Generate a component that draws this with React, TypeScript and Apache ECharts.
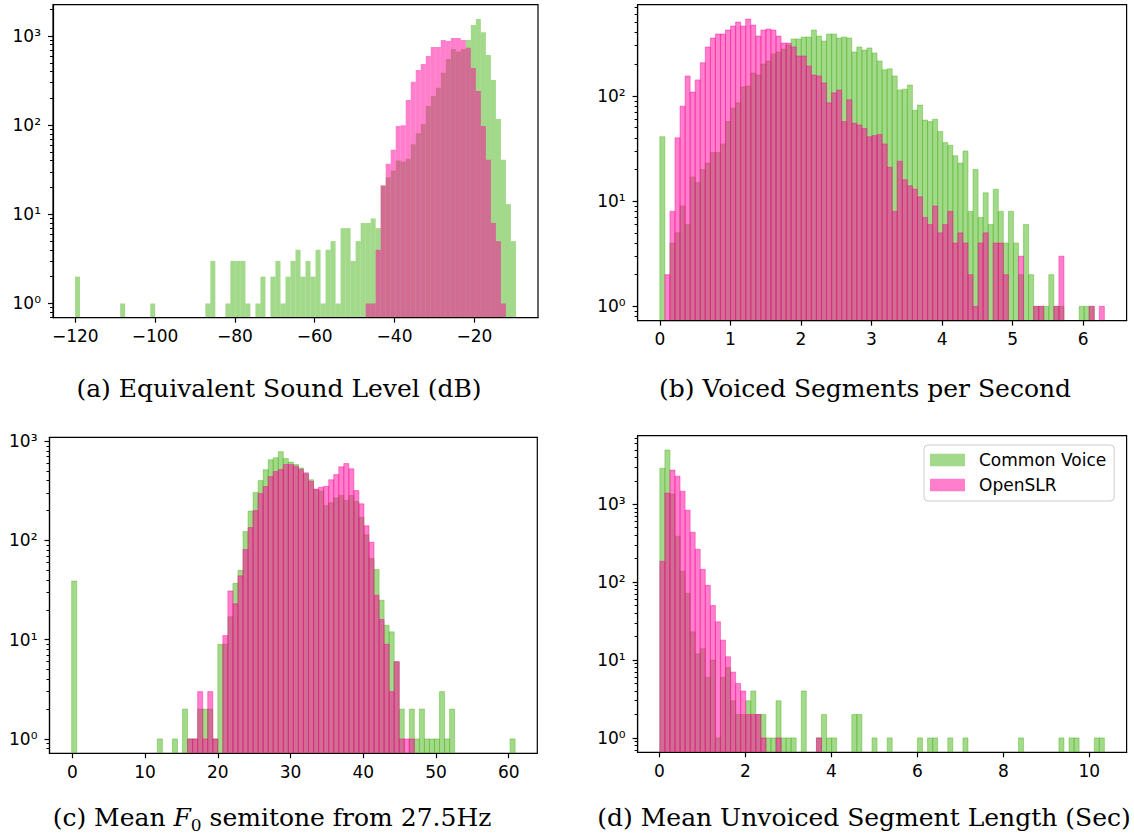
import React, { useEffect, useRef } from 'react';
import * as echarts from 'echarts';

// ---------- colours ----------
const GREEN = 'rgba(71,179,21,0.5)';
const PINK = 'rgba(255,0,153,0.5)';

// ---------- (a) Equivalent Sound Level (dB) : 88 shared bins ----------
const aBinStart = -120.05;
const aBinWidth = 1.2554;
const aCommonVoice = [
  2, 0, 0, 0, 0, 0, 0, 0, 0, 1, 0, 0, 0, 0, 0, 1, 0, 0, 0, 0,
  0, 0, 0, 0, 0, 0, 1, 3, 0, 0, 1, 3, 3, 3, 1, 0, 1, 2, 0, 2,
  3, 1, 2, 3, 4, 2, 3, 2, 4, 1, 4, 5, 1, 7, 7, 3, 5, 8, 8, 9,
  7, 21, 26, 31, 40, 39, 42, 61, 81, 103, 164, 212, 263, 388, 552, 715, 668, 715, 903, 1330,
  1553, 1101, 612, 321, 117, 41, 13, 5,
];
const aOpenSLR = [
  0, 0, 0, 0, 0, 0, 0, 0, 0, 0, 0, 0, 0, 0, 0, 0, 0, 0, 0, 0,
  0, 0, 0, 0, 0, 0, 0, 0, 0, 0, 0, 0, 0, 0, 0, 0, 0, 0, 0, 0,
  0, 0, 0, 0, 0, 0, 0, 0, 0, 0, 0, 0, 0, 0, 0, 0, 0, 0, 1, 1,
  4, 21, 37, 53, 98, 100, 191, 307, 416, 486, 597, 753, 753, 903, 880, 951, 951, 903, 740, 438,
  242, 98, 41, 8, 5, 1, 0, 0,
];
const aTicks = [-120, -100, -80, -60, -40, -20];

// ---------- (b) Voiced Segments per Second ----------
const bBinStart = 0;
const bBinWidth = 0.07159;
const bCommonVoice = [
  41, 0, 4, 5, 9, 6, 17, 15, 20, 23, 29, 29, 35, 57, 77, 86, 122, 124, 165, 158,
  201, 215, 251, 262, 279, 305, 348, 348, 363, 363, 423, 371, 333, 388, 388, 355, 363, 355, 262, 292,
  273, 286, 256, 215, 177, 181, 155, 114, 116, 127, 73, 82, 59, 57, 60, 46, 36, 34, 27, 23,
  30, 8, 20, 7, 12, 6, 13, 8, 4, 8, 4, 2, 6, 2, 1, 1, 1, 2, 1, 1,
  0, 0, 0, 1, 1, 1, 0, 0,
];
const bOpenSLR = [
  0, 2, 8, 40, 80, 155, 109, 142, 207, 292, 355, 388, 388, 423, 462, 504, 462, 538, 472, 371,
  423, 433, 423, 371, 318, 318, 292, 240, 240, 193, 158, 155, 133, 86, 107, 114, 57, 92, 55, 53,
  49, 41, 42, 43, 35, 21, 8, 24, 16, 14, 13, 11, 7, 6, 9, 5, 6, 8, 4, 5,
  4, 2, 1, 4, 5, 0, 4, 4, 2, 0, 0, 3, 0, 0, 1, 1, 0, 0, 1, 3,
  0, 0, 0, 0, 0, 1, 0, 1,
];
const bTicks = [0, 1, 2, 3, 4, 5, 6];

// ---------- (c) Mean F0 semitone from 27.5Hz ----------
const cBinStart = -0.1;
const cBinWidth = 0.693;
const cCommonVoice = [
  39, 0, 0, 0, 0, 0, 0, 0, 0, 0, 0, 0, 0, 0, 0, 0, 0, 1, 0, 0,
  1, 0, 2, 1, 1, 2, 2, 2, 1, 9, 9, 17, 37, 50, 123, 198, 305, 401, 517, 650,
  682, 785, 670, 616, 582, 538, 468, 409, 325, 314, 224, 240, 268, 284, 254, 284, 247, 171, 114, 66,
  51, 25, 14, 12, 6, 2, 0, 2, 1, 2, 1, 1, 1, 3, 1, 2, 0, 0, 0, 0,
  0, 0, 0, 0, 0, 0, 0, 1,
];
const cOpenSLR = [
  0, 0, 0, 0, 0, 0, 0, 0, 0, 0, 0, 0, 0, 0, 0, 0, 0, 0, 0, 0,
  0, 0, 0, 1, 1, 3, 1, 3, 1, 0, 11, 31, 23, 44, 81, 135, 200, 297, 349, 440,
  495, 518, 582, 582, 560, 520, 480, 395, 330, 344, 351, 409, 461, 552, 596, 528, 318, 234, 141, 96,
  28, 16, 9, 3, 6, 1, 1, 1, 0, 0, 0, 0, 0, 0, 0, 0, 0, 0, 0, 0,
  0, 0, 0, 0, 0, 0, 0, 0,
];
const cTicks = [0, 10, 20, 30, 40, 50, 60];

// ---------- (d) Mean Unvoiced Segment Length (Sec) ----------
const dBinStart = 0.01;
const dBinWidth = 0.1175;
const dCommonVoice = [
  2900, 4950, 1350, 388, 138, 72, 23, 12, 14, 6, 10, 1, 6, 8, 3, 2, 2, 3, 4, 2,
  2, 1, 1, 3, 1, 1, 1, 0, 4, 0, 0, 1, 2, 1, 1, 0, 0, 0, 2, 2,
  0, 0, 1, 0, 0, 1, 0, 0, 0, 0, 0, 1, 0, 1, 1, 0, 0, 1, 0, 0,
  1, 0, 0, 0, 0, 0, 0, 0, 0, 0, 0, 1, 0, 0, 0, 0, 0, 0, 0, 1,
  0, 1, 1, 0, 0, 0, 1, 1,
];
const dOpenSLR = [
  185, 1390, 2740, 2290, 1470, 838, 437, 264, 146, 91, 50, 31, 18, 11, 7, 5, 4, 2, 2, 2,
  1, 0, 0, 1, 0, 0, 0, 0, 0, 0, 0, 1, 0, 0, 0, 0, 0, 0, 0, 0,
  0, 0, 0, 0, 0, 0, 0, 0, 0, 0, 0, 0, 0, 0, 0, 0, 0, 0, 0, 0,
  0, 0, 0, 0, 0, 0, 0, 0, 0, 0, 0, 0, 0, 0, 0, 0, 0, 0, 0, 0,
  0, 0, 0, 0, 0, 0, 0, 0,
];
const dTicks = [0, 2, 4, 6, 8, 10];

const seriesNames = ['Common Voice', 'OpenSLR'];
const captions = [
  '(a) Equivalent Sound Level (dB)',
  '(b) Voiced Segments per Second',
  '(c) Mean F0 semitone from 27.5Hz',
  '(d) Mean Unvoiced Segment Length (Sec)',
];

// ---------- layout (pixels) ----------
const layouts = [
  { left: 53, top: 4.7, width: 485, height: 313 },
  { left: 637.6, top: 4.7, width: 489, height: 316 },
  { left: 49.5, top: 437.3, width: 487.8, height: 316 },
  { left: 637.6, top: 435.7, width: 489, height: 316.6 },
];
const captionPos = [
  { x: 279, y: 388 },
  { x: 865, y: 388 },
  { x: 272, y: 817.5 },
  { x: 864, y: 817.5 },
];

const SUP: Record<string, string> = { '-': '\u207B', '0': '\u2070', '1': '\u00B9', '2': '\u00B2', '3': '\u00B3', '4': '\u2074', '5': '\u2075' };
const MAJOR_LOG = [1, 10, 100, 1000, 10000];
const MINOR_LOG: number[] = [];
for (let d = -1; d <= 4; d++) for (let m = 2; m <= 9; m++) MINOR_LOG.push(m * Math.pow(10, d));

const TICK_FONT = { fontFamily: 'DejaVu Sans', fontSize: 17, color: '#000' };
const LINE = { color: '#000', width: 1.2 };

type Panel = { start: number; width: number; cv: number[]; slr: number[]; ticks: number[]; edges: boolean };
const panels: Panel[] = [
  { start: aBinStart, width: aBinWidth, cv: aCommonVoice, slr: aOpenSLR, ticks: aTicks, edges: false },
  { start: bBinStart, width: bBinWidth, cv: bCommonVoice, slr: bOpenSLR, ticks: bTicks, edges: true },
  { start: cBinStart, width: cBinWidth, cv: cCommonVoice, slr: cOpenSLR, ticks: cTicks, edges: true },
  { start: dBinStart, width: dBinWidth, cv: dCommonVoice, slr: dOpenSLR, ticks: dTicks, edges: true },
];

function toBins(start: number, width: number, counts: number[]) {
  const out: number[][] = [];
  counts.forEach((c, k) => {
    if (c > 0) out.push([start + k * width, start + (k + 1) * width, c]);
  });
  return out;
}

function makeRender(fill: string, edges: boolean) {
  return (params: any, api: any) => {
    const top = api.coord([api.value(0), api.value(2)]);
    const right = api.coord([api.value(1), api.value(2)]);
    const cs = params.coordSys;
    const bottom = cs.y + cs.height;
    return {
      type: 'rect',
      shape: { x: top[0], y: top[1], width: right[0] - top[0], height: bottom - top[1] },
      style: edges ? { fill, stroke: fill, lineWidth: 0.8 } : { fill },
    };
  };
}

function buildOption() {
  const grid: any[] = [];
  const xAxis: any[] = [];
  const yAxis: any[] = [];
  const series: any[] = [];

  panels.forEach((p, i) => {
    const n = p.cv.length;
    const lo = p.start;
    const hi = p.start + n * p.width;
    const span = hi - lo;
    const maxCount = Math.max(...p.cv, ...p.slr);
    const L = Math.log10(maxCount);
    const ymin = Math.pow(10, -0.05 * L);
    const ymax = Math.pow(10, 1.05 * L);

    grid.push({
      ...layouts[i],
      show: true,
      borderColor: '#000',
      borderWidth: 1.2,
      backgroundColor: 'transparent',
      containLabel: false,
      outerBoundsMode: 'none',
    });
    xAxis.push({
      type: 'value',
      gridIndex: i,
      min: lo - 0.05 * span,
      max: hi + 0.05 * span,
      z: 5,
      axisLine: { show: true, onZero: false, lineStyle: LINE },
      axisTick: { show: true, length: 5, lineStyle: LINE, customValues: p.ticks },
      axisLabel: {
        show: true,
        margin: 10,
        customValues: p.ticks,
        ...TICK_FONT,
        formatter: (v: number) => (v < 0 ? '\u2212' + Math.abs(v) : String(v)),
      },
      splitLine: { show: false },
    });
    yAxis.push({
      type: 'log',
      logBase: 10,
      gridIndex: i,
      min: ymin,
      max: ymax,
      position: 'left',
      z: 5,
      axisLine: { show: true, onZero: false, lineStyle: LINE },
      axisTick: { show: true, length: 5, lineStyle: LINE, customValues: MAJOR_LOG },
      axisLabel: {
        show: true,
        margin: 12,
        customValues: MAJOR_LOG,
        ...TICK_FONT,
        formatter: (v: number) => {
          const e = String(Math.round(Math.log10(v)));
          return '10' + e.split('').map((ch) => SUP[ch] || ch).join('');
        },
      },
      splitLine: { show: false },
      minorTick: { show: false },
    });
    yAxis.push({
      type: 'log',
      logBase: 10,
      gridIndex: i,
      min: ymin,
      max: ymax,
      position: 'left',
      offset: 0,
      z: 5,
      axisLine: { show: false, onZero: false },
      axisTick: { show: true, length: 3, lineStyle: { color: '#000', width: 1 }, customValues: MINOR_LOG },
      axisLabel: { show: false },
      splitLine: { show: false },
    });

    const sets = [
      { name: seriesNames[0], counts: p.cv, color: GREEN },
      { name: seriesNames[1], counts: p.slr, color: PINK },
    ];
    sets.forEach((s, j) => {
      series.push({
        type: 'custom',
        name: s.name,
        xAxisIndex: i,
        yAxisIndex: 2 * i,
        coordinateSystem: 'cartesian2d',
        itemStyle: { color: s.color },
        encode: { x: [0, 1], y: 2 },
        data: toBins(p.start, p.width, s.counts),
        renderItem: makeRender(s.color, p.edges),
        z: 2 + j,
        silent: true,
      });
    });
  });

  const capFont = { fontFamily: 'DejaVu Serif', fontSize: 25, fill: '#000' };
  const graphic: any[] = captions.map((c, i) => {
    if (i === 2) {
      return {
        type: 'text',
        x: captionPos[i].x,
        y: captionPos[i].y,
        style: {
          text: '{n|(c) Mean }{i|F}{s|0}{n| semitone from 27.5Hz}',
          align: 'center',
          verticalAlign: 'middle',
          ...capFont,
          rich: {
            n: { fontFamily: 'DejaVu Serif', fontSize: 25, lineHeight: 32, fill: '#000' },
            i: { fontFamily: 'DejaVu Serif', fontStyle: 'italic', fontSize: 25, lineHeight: 32, fill: '#000' },
            s: { fontFamily: 'DejaVu Serif', fontSize: 17, lineHeight: 16, verticalAlign: 'bottom', fill: '#000' },
          },
        },
      };
    }
    return {
      type: 'text',
      x: captionPos[i].x,
      y: captionPos[i].y,
      style: { text: c, align: 'center', verticalAlign: 'middle', ...capFont },
    };
  });

  return {
    animation: false,
    backgroundColor: '#fff',
    grid,
    xAxis,
    yAxis,
    series,
    graphic,
    legend: {
      show: true,
      orient: 'vertical',
      left: 924,
      top: 445,
      data: [
        { name: seriesNames[0], icon: 'rect' },
        { name: seriesNames[1], icon: 'rect' },
      ],
      itemWidth: 35,
      itemHeight: 12.7,
      itemGap: 5,
      selectedMode: false,
      textStyle: { fontFamily: 'DejaVu Sans', fontSize: 17, color: '#000', lineHeight: 20, padding: [0, 0, 0, 9] },
      backgroundColor: 'rgba(255,255,255,0.8)',
      borderColor: '#cccccc',
      borderWidth: 1,
      borderRadius: 4,
      padding: [5, 8, 6, 6],
    },
  };
}

export default function App() {
  const ref = useRef<HTMLDivElement>(null);
  useEffect(() => {
    const chart = echarts.init(ref.current as HTMLDivElement, null, { renderer: 'svg' });
    chart.setOption(buildOption() as any);
    return () => chart.dispose();
  }, []);
  return <div ref={ref} style={{ position: 'absolute', left: 0, top: 0, width: 1134, height: 839 }} />;
}
